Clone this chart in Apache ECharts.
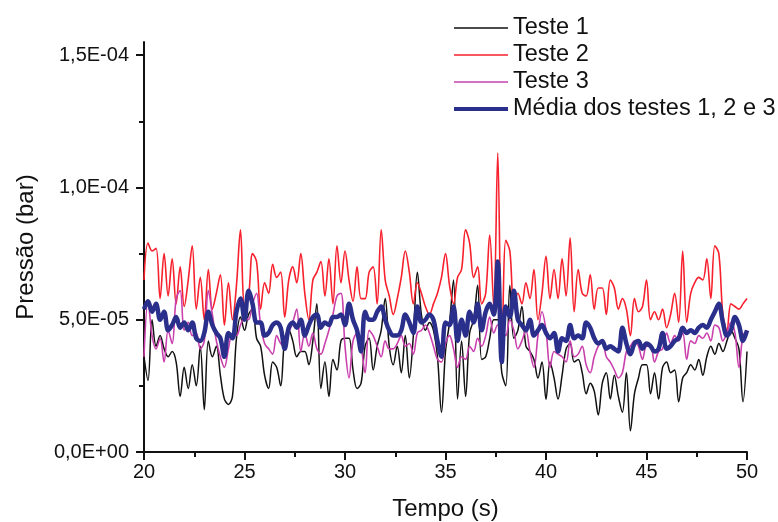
<!DOCTYPE html>
<html>
<head>
<meta charset="utf-8">
<title>Pressão x Tempo</title>
<script src="https://cdn.jsdelivr.net/npm/echarts@6/dist/echarts.min.js"></script>
<style>
    html, body { margin: 0; padding: 0; background: #fff; }
    #container { width: 778px; height: 522px; }
</style>
</head>
<body>
<div id="container"></div>
<script>
// tempo de 20 a 50 s, passo 0,2 s; valores em unidades de 1E-05 bar
const T_START = 20;
const T_STEP = 0.2;
const SCALE = 1e-5;

const teste1 = [
    3.6, 2.7, 5.0, 4.0, 4.4, 3.9, 3.6, 3.8, 3.4, 2.1, 3.2, 2.4, 3.3, 2.5, 4.0, 1.6, 4.2, 3.6, 4.0, 2.9, 2.0, 1.8, 2.1, 4.3, 5.1, 4.6,
    5.2, 5.4, 4.3, 4.0, 2.9, 2.4, 3.4, 3.2, 2.5, 4.3, 4.6, 4.2, 3.6, 3.8, 3.8, 3.3, 4.2, 5.6, 2.4, 3.4, 2.1, 3.5, 3.1, 4.2, 4.3,
    4.3, 3.1, 2.4, 2.6, 4.0, 4.3, 3.1, 4.0, 4.6, 5.8, 4.0, 3.3, 4.0, 3.0, 4.4, 2.8, 4.4, 6.8, 5.2, 4.6, 4.9, 4.6, 3.6, 1.5, 3.8,
    4.9, 6.5, 2.0, 4.2, 2.1, 4.5, 5.0, 6.3, 3.5, 3.6, 4.3, 5.0, 5.0, 3.0, 2.5, 6.3, 4.3, 4.6, 5.5, 4.0, 3.8, 3.5, 2.8, 3.4, 2.0,
    3.4, 2.8, 2.0, 2.9, 3.9, 4.1, 3.4, 3.5, 3.0, 2.2, 2.6, 2.3, 1.4, 2.6, 3.0, 2.0, 2.9, 2.1, 1.5, 3.0, 0.8, 2.2, 2.8, 3.3, 3.3,
    2.2, 3.0, 2.0, 3.2, 3.4, 3.0, 3.1, 1.9, 2.8, 3.0, 3.3, 3.1, 3.5, 2.9, 3.6, 4.0, 3.7, 4.1, 3.8, 4.2, 4.6, 4.3, 3.9, 1.9, 3.8
];

const teste2 = [
    6.5, 7.9, 7.6, 7.7, 5.8, 7.5, 5.9, 7.3, 5.6, 7.0, 5.5, 6.5, 7.8, 5.4, 6.6, 5.0, 6.9, 5.4, 6.0, 6.7, 4.8, 6.4, 5.0, 6.3, 8.4, 5.6,
    5.9, 7.5, 7.2, 5.4, 6.4, 6.0, 7.1, 6.6, 6.8, 5.1, 6.5, 7.0, 6.4, 7.5, 6.0, 5.0, 6.5, 6.8, 7.2, 5.9, 7.3, 5.6, 7.8, 6.4, 7.6,
    6.5, 5.7, 7.0, 5.8, 5.8, 6.8, 7.0, 5.6, 8.4, 6.5, 5.9, 5.2, 5.8, 6.6, 7.6, 6.8, 5.6, 6.4, 6.0, 5.5, 5.2, 5.6, 6.0, 6.6, 7.5,
    6.3, 5.6, 6.6, 6.9, 8.4, 7.9, 6.6, 7.0, 5.6, 6.0, 8.2, 5.5, 11.3, 3.5, 8.0, 7.6, 5.6, 6.0, 5.6, 6.4, 5.8, 6.9, 5.0, 6.0, 7.4,
    5.8, 6.9, 5.8, 7.3, 5.9, 8.1, 5.3, 6.9, 6.0, 5.9, 6.7, 5.4, 6.2, 6.2, 5.2, 6.5, 6.2, 5.4, 5.8, 5.4, 4.4, 5.8, 5.3, 5.5, 6.5,
    5.0, 5.3, 5.0, 5.4, 4.7, 5.2, 6.0, 4.9, 7.6, 4.9, 6.0, 6.4, 6.6, 6.5, 7.3, 5.8, 7.8, 7.5, 5.2, 4.6, 5.6, 5.5, 5.4, 5.6, 5.8
];

const teste3 = [
    3.6, 5.7, 4.4, 3.9, 4.3, 3.4, 4.6, 4.1, 5.8, 6.1, 4.6, 4.9, 4.4, 4.5, 3.9, 4.2, 6.1, 5.2, 4.2, 3.6, 3.2, 3.9, 4.5, 4.4, 4.8, 5.1,
    5.0, 5.6, 6.0, 4.8, 4.1, 3.9, 3.7, 4.4, 4.1, 4.0, 4.5, 4.9, 5.4, 3.8, 4.5, 4.0, 4.5, 3.9, 3.7, 4.1, 4.6, 5.2, 5.9, 6.0, 4.0,
    2.8, 4.2, 4.5, 4.0, 3.0, 4.6, 4.4, 4.0, 3.6, 4.2, 3.9, 3.9, 4.1, 4.4, 4.0, 4.1, 3.7, 4.5, 4.6, 4.8, 4.5, 4.0, 3.5, 3.4, 4.1,
    4.4, 3.9, 3.2, 3.6, 3.5, 4.0, 3.8, 4.3, 4.0, 4.4, 5.1, 4.5, 4.8, 4.6, 4.4, 5.0, 4.6, 3.9, 4.2, 4.6, 3.8, 3.2, 4.4, 5.3, 4.6,
    3.2, 3.8, 3.7, 3.6, 3.4, 4.2, 3.6, 3.7, 4.0, 3.3, 3.0, 3.6, 4.0, 4.2, 3.6, 3.4, 3.1, 2.8, 3.0, 3.8, 4.0, 4.2, 4.0, 3.5, 4.0,
    4.0, 3.4, 3.8, 3.9, 4.5, 4.1, 4.4, 4.2, 4.5, 3.5, 4.2, 4.1, 4.4, 4.3, 4.5, 4.2, 4.8, 4.7, 4.2, 4.5, 4.9, 4.5, 3.2, 4.4, 4.6
];

const media = [
    5.4, 5.7, 5.3, 5.6, 5.0, 5.3, 4.6, 4.8, 5.1, 4.7, 4.9, 4.6, 4.9, 4.3, 4.2, 4.5, 5.3, 4.8, 4.5, 4.3, 3.6, 4.5, 4.3, 5.3, 5.8, 5.0,
    6.1, 5.6, 4.9, 4.9, 4.4, 4.5, 4.8, 4.9, 4.7, 3.9, 4.7, 4.9, 4.7, 5.0, 4.4, 4.8, 5.1, 5.2, 4.7, 4.9, 4.8, 5.1, 5.1, 5.2, 4.8,
    5.6, 5.0, 4.6, 3.8, 5.3, 5.0, 5.0, 5.3, 5.5, 5.0, 4.6, 4.4, 4.4, 4.6, 5.2, 4.9, 4.5, 5.5, 4.9, 5.0, 5.2, 5.0, 4.2, 3.6, 4.9,
    4.8, 5.5, 4.2, 5.0, 4.4, 5.3, 4.9, 5.6, 4.6, 5.3, 5.6, 5.2, 7.2, 3.4, 5.5, 5.1, 6.1, 5.0, 4.8, 4.6, 5.0, 4.4, 4.6, 4.8, 4.5,
    4.3, 4.5, 3.8, 4.3, 4.2, 4.8, 4.3, 4.4, 4.3, 4.9, 4.7, 4.3, 4.1, 4.2, 3.9, 4.0, 3.9, 3.8, 4.7, 4.1, 3.7, 4.1, 4.2, 3.9, 4.1,
    4.0, 3.8, 3.9, 4.5, 3.9, 4.0, 4.2, 4.3, 4.7, 4.5, 4.6, 4.5, 4.7, 4.8, 4.7, 5.0, 5.3, 5.6, 4.9, 4.4, 4.6, 5.1, 4.8, 4.2, 4.6
];

const yTicks = [0, 5e-5, 1e-4, 1.5e-4];

const nomes = ['Teste 1', 'Teste 2', 'Teste 3', 'Média dos testes 1, 2 e 3'];
const cores = ['#111111', '#f7202c', '#c940ad', '#2b2f8c'];
const larguras = [1.5, 1.6, 1.6, 4.5];

const FONT = '"Liberation Sans", Arial, sans-serif';

function toPairs(vals) {
    var obj = [];
    for (var i = 0; i < vals.length; i++) {
        obj.push([+(T_START + i * T_STEP).toFixed(1), vals[i] * SCALE]);
    }
    return obj;
}

function fmtExp(v) {
    // 5e-5 -> "5,0E-05"
    var s = v.toExponential(1).split('e');
    var exp = parseInt(s[1], 10);
    var sign = exp < 0 ? '-' : '+';
    var e = Math.abs(exp);
    return s[0].replace('.', ',') + 'E' + sign + (e < 10 ? '0' + e : e);
}

// ícone de linha simples para a legenda (sem marcador)
function lineIcon(w) {
    return 'path://M0,0 L60,0 L60,' + w + ' L0,' + w + ' Z';
}

var dom = document.getElementById('container');
var myChart = echarts.init(dom, null, { renderer: 'canvas' });

var series = [teste1, teste2, teste3, media].map(function (vals, k) {
    return {
        name: nomes[k],
        type: 'line',
        data: toPairs(vals),
        symbol: 'none',
        smooth: 0.35,
        lineStyle: { color: cores[k], width: larguras[k] },
        itemStyle: { color: cores[k] },
        z: 2 + k,
        animation: false
    };
});

var option = {
    backgroundColor: '#fff',
    animation: false,
    textStyle: { fontFamily: FONT },
    grid: { left: 144, right: 31, top: 42, bottom: 70, outerBoundsMode: 'none', containLabel: false },
    legend: {
        orient: 'vertical',
        left: 449,
        top: 11,
        itemWidth: 54,
        itemHeight: 14,
        itemGap: 3,
        symbolKeepAspect: true,
        data: nomes.map(function (n, k) {
            return { name: n, icon: lineIcon(k === 3 ? 4.5 : 1.6) };
        }),
        textStyle: { fontFamily: FONT, fontSize: 23.5, color: '#111' }
    },
    xAxis: {
        type: 'value',
        min: 20,
        max: 50,
        interval: 5,
        name: 'Tempo (s)',
        nameLocation: 'middle',
        nameGap: 45,
        nameTextStyle: { fontFamily: FONT, fontSize: 24, color: '#111' },
        axisLine: { lineStyle: { color: '#111', width: 2 } },
        axisTick: { inside: false, length: 8, lineStyle: { color: '#111', width: 2 } },
        minorTick: { show: true, splitNumber: 2, length: 5, lineStyle: { color: '#111', width: 2 } },
        axisLabel: { fontFamily: FONT, fontSize: 20, color: '#111', margin: 10 },
        splitLine: { show: false }
    },
    yAxis: {
        type: 'value',
        min: 0,
        max: 1.55e-4,
        interval: 5e-5,
        name: 'Pressão (bar)',
        nameLocation: 'middle',
        nameGap: 106,
        nameTextStyle: { fontFamily: FONT, fontSize: 24, color: '#111' },
        axisLine: { show: true, lineStyle: { color: '#111', width: 2 } },
        axisTick: {
            show: true, inside: false, length: 8,
            customValues: yTicks,
            lineStyle: { color: '#111', width: 2 }
        },
        minorTick: { show: true, splitNumber: 2, length: 5, lineStyle: { color: '#111', width: 2 } },
        axisLabel: {
            fontFamily: FONT,
            fontSize: 20,
            color: '#111',
            margin: 15,
            customValues: yTicks,
            formatter: function (v) {
                return fmtExp(v);
            }
        },
        splitLine: { show: false }
    },
    series: series
};

if (option && typeof option === 'object') {
    myChart.setOption(option);
}

window.addEventListener('resize', myChart.resize);
</script>
</body>
</html>
